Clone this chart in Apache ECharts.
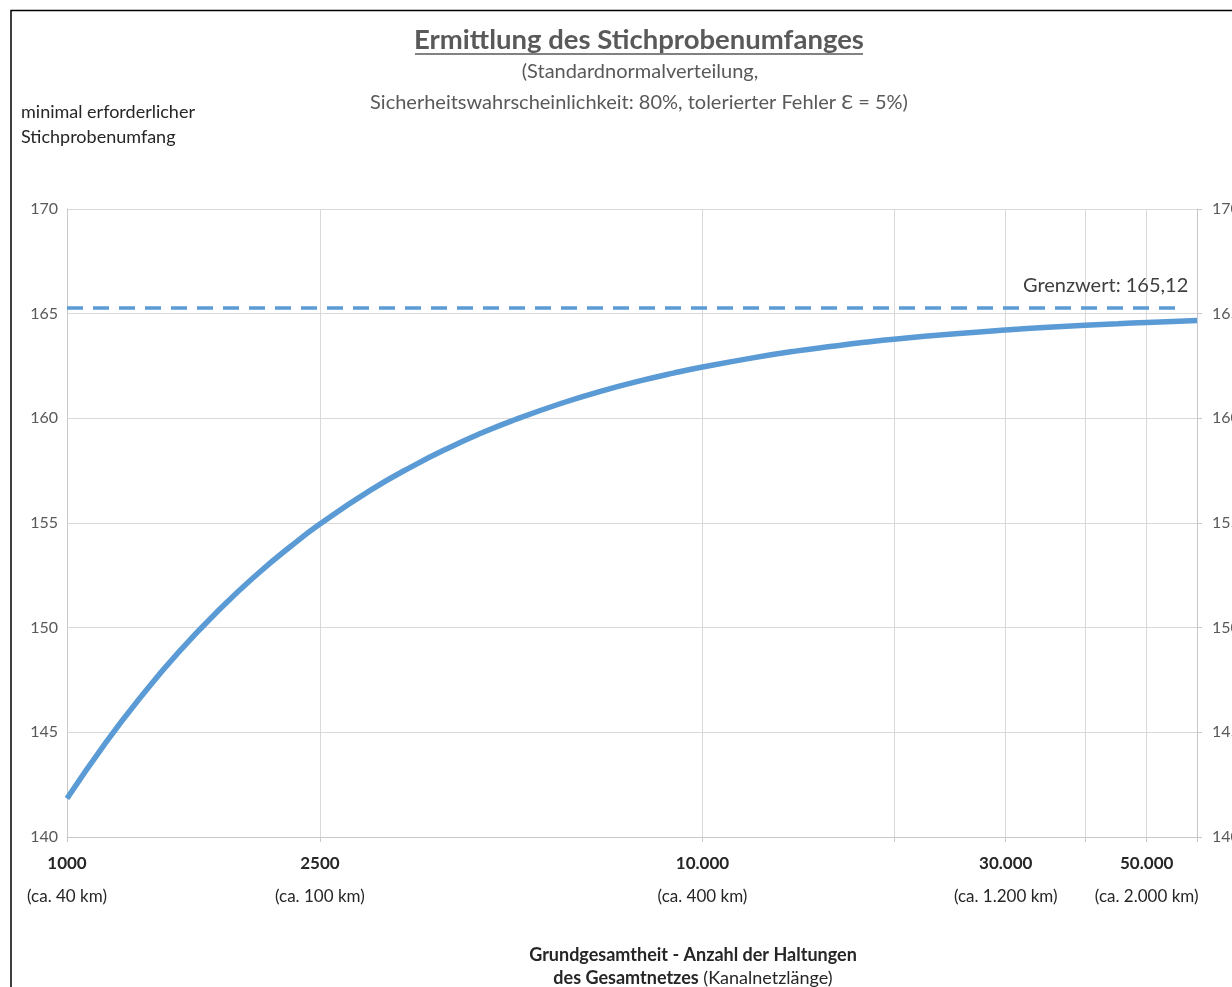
<!DOCTYPE html>
<html>
<head>
<meta charset="utf-8">
<script src="https://cdn.jsdelivr.net/npm/echarts@6/dist/echarts.min.js"></script>
<style>
html,body{margin:0;padding:0;background:#fff;}
#chart{width:1232px;height:987px;}
</style>
</head>
<body>
<div id="chart"></div>
<script>
// ---- data ----
const populationN = [1000, 1150, 1300, 1500, 1750, 2000, 2250, 2500, 3000, 3500, 4000, 4500, 5000, 6000, 7000, 8000, 9000, 10000, 12000, 14000, 16000, 18000, 20000, 25000, 30000, 35000, 40000, 45000, 50000, 55000, 60000];
const sampleSize  = [141.84, 144.50, 146.61, 148.84, 150.96, 152.60, 153.89, 154.95, 156.56, 157.72, 158.61, 159.31, 159.87, 160.72, 161.34, 161.80, 162.16, 162.45, 162.89, 163.21, 163.44, 163.63, 163.78, 164.04, 164.22, 164.35, 164.45, 164.52, 164.58, 164.63, 164.67];
const limitValue = 165.3;
const limitLabel = 'Grenzwert: 165,12';
const limitRange = [1000, 57300];
const xTickValues = [1000, 2500, 10000, 20000, 30000, 40000, 50000, 60000];
const xLabelValues = [1000, 2500, 10000, 30000, 50000];
const xLabelMain = ['1000', '2500', '10.000', '30.000', '50.000'];
const xLabelSub = ['(ca. 40 km)', '(ca. 100 km)', '(ca. 400 km)', '(ca. 1.200 km)', '(ca. 2.000 km)'];
const yMin = 140, yMax = 170, yInterval = 5;
const titleText = 'Ermittlung des Stichprobenumfanges';
const subtitleLines = ['(Standardnormalverteilung,', 'Sicherheitswahrscheinlichkeit: 80%, tolerierter Fehler Ɛ = 5%)'];
const yTitleLines = ['minimal erforderlicher', 'Stichprobenumfang'];
const xTitleLine1 = 'Grundgesamtheit - Anzahl der Haltungen';
const xTitleLine2Bold = 'des Gesamtnetzes';
const xTitleLine2Normal = ' (Kanalnetzlänge)';

const FONT = 'Lato';
const BLUE = '#5B9BD5';
const GRID = '#d9d9d9';
const TXT = '#262626';

const chart = echarts.init(document.getElementById('chart'));

function xLabelFormatter(v) {
  let idx = -1;
  for (let i = 0; i < xLabelValues.length; i++) {
    if (Math.abs(v - xLabelValues[i]) / xLabelValues[i] < 1e-6) idx = i;
  }
  if (idx < 0) return '';
  return '{a|' + xLabelMain[idx] + '}\n{b|' + xLabelSub[idx] + '}';
}

const yAxisCommon = {
  type: 'value',
  min: yMin, max: yMax, interval: yInterval,
  axisLine: { show: true, lineStyle: { color: '#c8c8c8', width: 1 } },
  axisLabel: { color: '#595959', fontSize: 16, fontFamily: FONT },
  splitLine: { show: true, lineStyle: { color: GRID, width: 1 } }
};

function txt(x, y, text, size, weight, color) {
  return { type: 'text', x: x, y: y, style: { text: text, fontSize: size, fontWeight: weight, fontFamily: FONT, fill: color, align: 'center', verticalAlign: 'middle' } };
}

const option = {
  backgroundColor: '#ffffff',
  animation: false,
  textStyle: { fontFamily: FONT },
  grid: { left: 67, right: 35, top: 209, bottom: 150, containLabel: false, outerBoundsMode: 'none' },
  xAxis: {
    type: 'log',
    logBase: 10,
    min: 1000,
    max: 60000,
    axisLine: { show: true, onZero: false, lineStyle: { color: '#c8c8c8', width: 1 } },
    axisTick: { show: true, length: 5, customValues: xTickValues, lineStyle: { color: '#c8c8c8' } },
    splitLine: { show: true, lineStyle: { color: GRID, width: 1 } },
    axisLabel: {
      show: true,
      customValues: xLabelValues,
      margin: 11,
      showMinLabel: true,
      showMaxLabel: true,
      hideOverlap: false,
      formatter: xLabelFormatter,
      rich: {
        a: { fontSize: 17, fontWeight: 'bold', color: TXT, fontFamily: FONT, lineHeight: 32 },
        b: { fontSize: 17, color: TXT, fontFamily: FONT, lineHeight: 34 }
      }
    }
  },
  yAxis: [
    Object.assign({}, yAxisCommon, { position: 'left', axisTick: { show: false }, axisLabel: Object.assign({}, yAxisCommon.axisLabel, { margin: 9 }) }),
    Object.assign({}, yAxisCommon, { position: 'right', axisTick: { show: true, length: 5, lineStyle: { color: '#c8c8c8' } }, splitLine: { show: false }, axisLabel: Object.assign({}, yAxisCommon.axisLabel, { margin: 15 }) })
  ],
  series: [
    {
      name: 'Stichprobenumfang',
      type: 'line',
      xAxisIndex: 0,
      yAxisIndex: 0,
      data: populationN.map((n, i) => [n, sampleSize[i]]),
      smooth: 0.5,
      showSymbol: false,
      lineStyle: { color: BLUE, width: 5.5 },
      z: 3
    },
    {
      name: 'Grenzwert',
      type: 'line',
      xAxisIndex: 0,
      yAxisIndex: 0,
      data: [],
      markLine: {
        silent: true,
        symbol: 'none',
        lineStyle: { color: BLUE, width: 3.5, type: [16, 10] },
        label: {
          show: true,
          position: 'insideEndTop',
          formatter: limitLabel,
          color: '#404040',
          fontSize: 20,
          fontFamily: FONT,
          distance: [-4, 12]
        },
        data: [[
          { coord: [limitRange[0], limitValue] },
          { coord: [limitRange[1], limitValue] }
        ]]
      }
    }
  ],
  graphic: [
    { type: 'rect', silent: true, shape: { x: 11, y: 10.5, width: 1400, height: 1200 }, style: { fill: 'none', stroke: '#000', lineWidth: 1.5 } },
    txt(639, 40, titleText, 27.5, 'bold', '#595959'),
    { type: 'line', shape: { x1: 415, y1: 54, x2: 863, y2: 54 }, style: { stroke: '#595959', lineWidth: 1.6 } },
    txt(640, 72, subtitleLines[0], 20, 'normal', '#595959'),
    txt(639, 103, subtitleLines[1], 20, 'normal', '#595959'),
    { type: 'text', x: 21, y: 112, style: { text: yTitleLines[0], fontSize: 18, fontFamily: FONT, fill: TXT, align: 'left', verticalAlign: 'middle' } },
    { type: 'text', x: 21, y: 137, style: { text: yTitleLines[1], fontSize: 18, fontFamily: FONT, fill: TXT, align: 'left', verticalAlign: 'middle' } },
    txt(693, 955, xTitleLine1, 18, 'bold', TXT),
    { type: 'text', x: 693, y: 978, style: {
        text: '{b|' + xTitleLine2Bold + '}{n|' + xTitleLine2Normal + '}',
        rich: {
          b: { fontSize: 18, fontWeight: 'bold', fontFamily: FONT, fill: TXT },
          n: { fontSize: 18, fontFamily: FONT, fill: TXT }
        },
        align: 'center', verticalAlign: 'middle' } }
  ]
};
chart.setOption(option);
</script>
</body>
</html>
